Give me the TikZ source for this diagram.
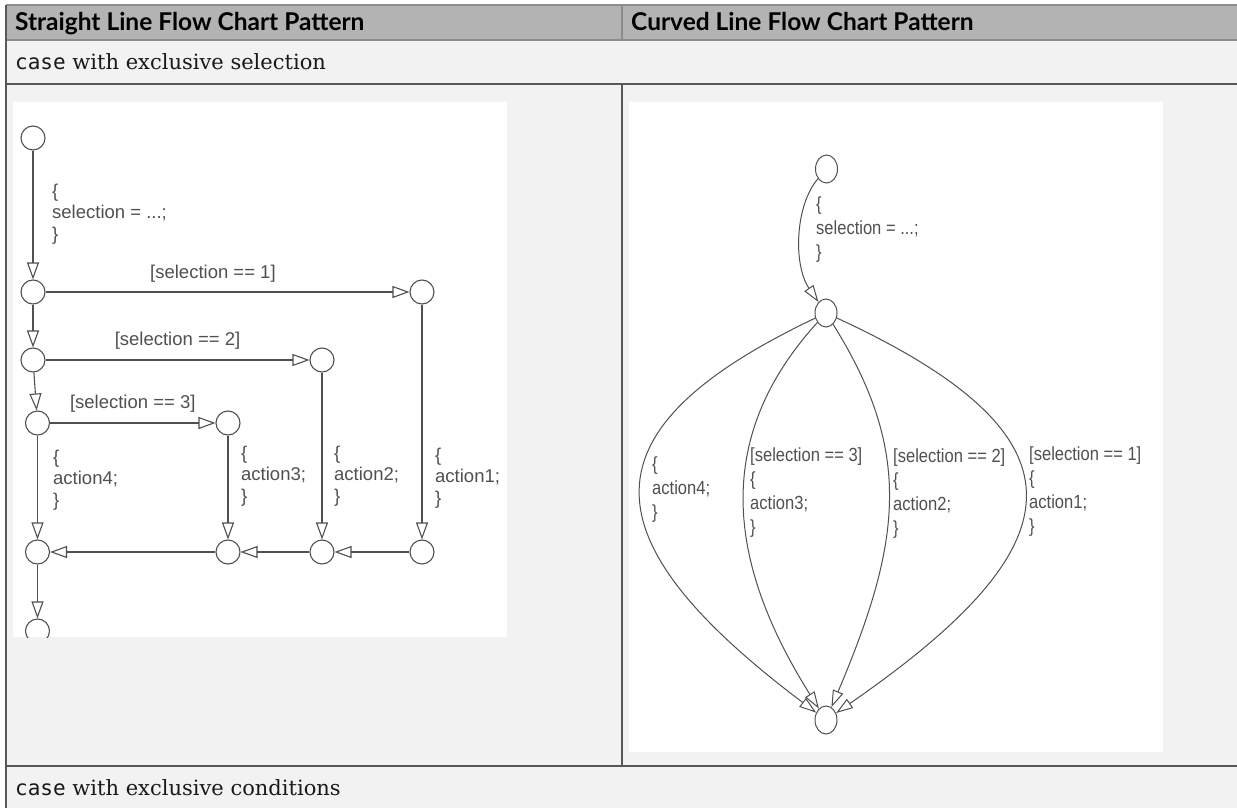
\documentclass[tikz,border=0pt]{standalone}
\usepackage{fontspec}
\setmainfont{DejaVu Serif}
\newfontfamily\headfont{Lato}
\newfontfamily\codefont{DejaVu Sans Mono}
\newfontfamily\chartfont{Liberation Sans}
\newfontfamily\chartfontnarrow[FakeStretch=0.87]{Liberation Sans}
\usetikzlibrary{arrows.meta,shapes.geometric}
\definecolor{headgray}{RGB}{179,179,179}
\definecolor{cellgray}{RGB}{242,242,242}
\definecolor{rulegray}{RGB}{88,88,88}
\definecolor{lightrule}{RGB}{140,140,140}
\definecolor{ink}{RGB}{80,80,80}

\begin{document}
\begin{tikzpicture}[x=1pt, y=-1pt,
    jn/.style={draw=ink, circle, minimum size=24pt, inner sep=0pt, line width=1.1pt},
    ej/.style={draw=ink, ellipse, minimum width=22pt, minimum height=28pt, inner sep=0pt, line width=1pt},
    lbl/.style={font=\chartfont\fontsize{18.5}{21.5}\selectfont, text=ink, align=left, inner sep=0pt},
    rlbl/.style={font=\chartfontnarrow\fontsize{19}{24}\selectfont, text=ink, align=left, inner sep=0pt},
    arr/.style={-{Triangle[open, length=17pt, width=12pt]}, draw=ink, line width=1.1pt},
    rarr/.style={-{Triangle[open, length=17pt, width=11pt]}, draw=ink, line width=1pt},
    tabrule/.style={draw=rulegray, line width=1.6pt},
    head/.style={font=\headfont\bfseries\fontsize{24.5}{26}\selectfont, text=black, anchor=base west, inner sep=0pt},
    rowtxt/.style={font=\fontsize{21}{24}\selectfont, text=black!90, anchor=base west, inner sep=0pt}
]
\useasboundingbox (0,0) rectangle (1237,808);
\fill[white] (0,0) rectangle (1237,808);
\fill[cellgray] (6,5) rectangle (1237,808);
\fill[headgray] (6,5) rectangle (1237,40);
\fill[white] (13,102) rectangle (507,637);
\fill[white] (629,102) rectangle (1163,752);

\draw[tabrule, draw=lightrule] (6,5) -- (1237,5);
\draw[tabrule, draw=lightrule] (6,40) -- (1237,40);
\draw[tabrule] (6,84) -- (1237,84);
\draw[tabrule] (6,766) -- (1237,766);
\draw[tabrule] (6,5) -- (6,808);
\draw[tabrule, draw=lightrule] (622,5) -- (622,40);
\draw[tabrule] (622,84) -- (622,766);

\node[head] (hstraight) at (15,31) {Straight Line Flow Chart Pattern};
\node[head] (hcurved) at (631,31) {Curved Line Flow Chart Pattern};
\node[rowtxt] (rowsel) at (15,70) {{\codefont case} with exclusive selection};
\node[rowtxt] (rowcond) at (15,795) {{\codefont case} with exclusive conditions};

\begin{scope}
\clip (13,102) rectangle (507,637);
\node[jn] (j0) at (33,138) {};
\node[jn] (j1) at (33,292) {};
\node[jn] (j2) at (33,360) {};
\node[jn] (j3) at (37.5,423) {};
\node[jn] (t1) at (422,292) {};
\node[jn] (t2) at (322,360) {};
\node[jn] (t3) at (228,423) {};
\node[jn] (m0) at (37.5,552) {};
\node[jn] (m3) at (228,552) {};
\node[jn] (m2) at (322,552) {};
\node[jn] (m1) at (422,552) {};
\node[jn] (e0) at (37.5,631) {};
\node[lbl, anchor=west] (setsel) at (52,214) {\{\\selection = ...;\\\}};
\node[lbl, anchor=west] (act4) at (53,480) {\{\\action4;\\\}};
\node[lbl, anchor=west] (act3) at (241,476) {\{\\action3;\\\}};
\node[lbl, anchor=west] (act2) at (334,476) {\{\\action2;\\\}};
\node[lbl, anchor=west] (act1) at (435,478) {\{\\action1;\\\}};
\draw[arr] (j0) -- (j1);
\draw[arr] (j1) -- node[lbl, above=9pt, pos=0.46] (g1) {[selection == 1]} (t1);
\draw[arr] (j1) -- (j2);
\draw[arr] (j2) -- node[lbl, above=10pt] (g2) {[selection == 2]} (t2);
\draw[arr] (j2) -- (j3);
\draw[arr] (j3) -- node[lbl, above=10pt] (g3) {[selection == 3]} (t3);
\draw[arr] (j3) -- (m0);
\draw[arr] (t3) -- (m3);
\draw[arr] (t2) -- (m2);
\draw[arr] (t1) -- (m1);
\draw[arr] (m1) -- (m2);
\draw[arr] (m2) -- (m3);
\draw[arr] (m3) -- (m0);
\draw[arr] (m0) -- (e0);
\end{scope}

\node[ej] (s0) at (826.5,169) {};
\node[ej] (s1) at (826,313) {};
\node[ej] (fin) at (826,720) {};
\node[rlbl, anchor=west] (rsetsel) at (816,230) {\{\\selection = ...;\\\}};
\node[rlbl, anchor=west] (ract4) at (652,490) {\{\\action4;\\\}};
\node[rlbl, anchor=west] (ract3) at (750,493) {[selection == 3]\\\{\\action3;\\\}};
\node[rlbl, anchor=west] (ract2) at (893,494) {[selection == 2]\\\{\\action2;\\\}};
\node[rlbl, anchor=west] (ract1) at (1029,492) {[selection == 1]\\\{\\action1;\\\}};
\draw[rarr] (s0) .. controls (795,205) and (793,265) .. (s1);
\draw[rarr] (s1) .. controls (582,429) and (583,537) .. (fin);
\draw[rarr] (s1) .. controls (716,434) and (723,556) .. (fin);
\draw[rarr] (s1) .. controls (913,452) and (902,541) .. (fin);
\draw[rarr] (s1) .. controls (1099,439) and (1076,547) .. (fin);
\end{tikzpicture}
\end{document}
